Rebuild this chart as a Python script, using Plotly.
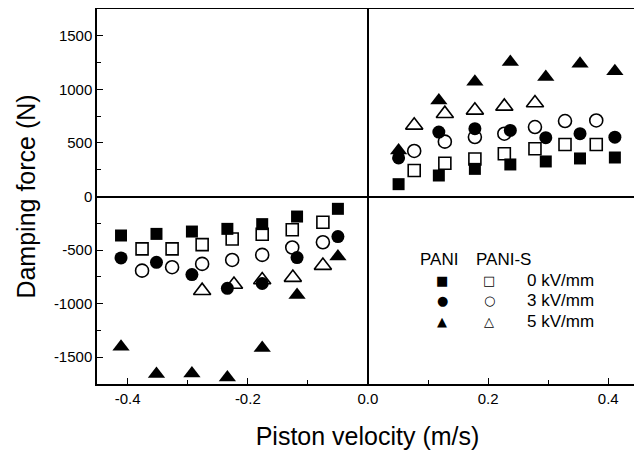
import plotly.graph_objects as go

# ---- data ----
v_pani = [-0.411, -0.352, -0.293, -0.234, -0.176, -0.118, -0.050,
          0.051, 0.118, 0.178, 0.237, 0.296, 0.353, 0.411]
v_panis = [-0.376, -0.326, -0.276, -0.226, -0.176, -0.126, -0.075,
           0.077, 0.128, 0.178, 0.227, 0.278, 0.328, 0.380]
v_panis_5 = [-0.276, -0.223, -0.176, -0.125, -0.075,
             0.077, 0.128, 0.178, 0.227, 0.278]

f_pani_0 = [-364, -349, -327, -302, -258, -187, -115,
            115, 196, 258, 299, 327, 355, 364]
f_pani_3 = [-573, -614, -729, -857, -812, -570, -374,
            360, 601, 633, 617, 549, 586, 554]
f_pani_5 = [-1402, -1657, -1651, -1689, -1414, -920, -560,
            430, 897, 1070, 1255, 1115, 1240, 1168]
f_panis_0 = [-489, -489, -449, -396, -352, -310, -240,
             243, 311, 350, 399, 446, 486, 486]
f_panis_3 = [-692, -660, -629, -592, -545, -476, -427,
             425, 512, 555, 586, 648, 704, 710]
f_panis_5 = [-879, -822, -779, -757, -645,
             664, 773, 804, 841, 872]

x_ticks = [-0.4, -0.2, 0.0, 0.2, 0.4]
x_ticktext = ["-0.4", "-0.2", "0.0", "0.2", "0.4"]
y_ticks = [-1500, -1000, -500, 0, 500, 1000, 1500]
y_ticktext = ["-1500", "-1000", "-500", "0", "500", "1000", "1500"]

FONT = "Liberation Sans, Arial, Helvetica, sans-serif"

fig = go.Figure()

def add(x, y, symbol, name, size):
    open_ = symbol.endswith("-open")
    fig.add_trace(go.Scatter(
        x=x, y=y, mode="markers", name=name, showlegend=False,
        marker=dict(symbol=symbol, size=size, color="black",
                    line=dict(color="black", width=1.6 if open_ else 0)),
    ))

add(v_pani, f_pani_0, "square", "PANI 0 kV/mm", 12)
add(v_panis, f_panis_0, "square-open", "PANI-S 0 kV/mm", 12)
add(v_pani, f_pani_3, "circle", "PANI 3 kV/mm", 13)
add(v_panis, f_panis_3, "circle-open", "PANI-S 3 kV/mm", 13)
add(v_panis_5, f_panis_5, "triangle-up-open", "PANI-S 5 kV/mm", 15)
add(v_pani, f_pani_5, "triangle-up", "PANI 5 kV/mm", 15)

axis_common = dict(
    showline=True, linecolor="black", linewidth=1.5, mirror=True,
    ticks="inside", ticklen=6, tickwidth=1.3, tickcolor="black",
    showgrid=False, zeroline=True, zerolinecolor="black", zerolinewidth=1.5,
    tickfont=dict(family=FONT, size=15, color="black"),
    automargin=False,
)

fig.update_xaxes(
    range=[-0.451, 0.4495], tickvals=x_ticks, ticktext=x_ticktext,
    minor=dict(ticks="inside", ticklen=4, tickwidth=1.2, tickcolor="black", dtick=0.1, tick0=0),
    title=dict(text="Piston velocity (m/s)", font=dict(family=FONT, size=25, color="black"), standoff=22),
    **axis_common)
fig.update_yaxes(
    range=[-1750, 1750], tickvals=y_ticks, ticktext=y_ticktext,
    minor=dict(ticks="inside", ticklen=4, tickwidth=1.2, tickcolor="black", dtick=250, tick0=0),
    title=dict(text="Damping force (N)", font=dict(family=FONT, size=25, color="black"), standoff=11),
    **axis_common)

# ---- layout geometry (page body adds an 8 px offset) ----
OFF = 8
W, H = 642 - OFF, 452 - OFF
L, R, T, B = 97 - OFF, 4, 9 - OFF, 68
pw, ph = W - L - R, H - T - B

def px(x):
    return (x - OFF - L) / pw

def py(y):
    return (H - B - (y - OFF)) / ph

legend_font = dict(family=FONT, size=17, color="black")
sym_font = dict(family="DejaVu Sans", size=13, color="black")
ann = [
    dict(text="PANI", x=px(439), y=py(259), xanchor="center", yanchor="middle", font=legend_font),
    dict(text="PANI-S", x=px(503), y=py(259), xanchor="center", yanchor="middle", font=legend_font),
]
rows = [("■", "□", "0 kV/mm", 280), ("●", "○", "3 kV/mm", 300), ("▲", "△", "5 kV/mm", 321)]
for s1, s2, lab, yy in rows:
    ann.append(dict(text=s1, x=px(442), y=py(yy), xanchor="center", yanchor="middle", font=sym_font))
    ann.append(dict(text=s2, x=px(489), y=py(yy), xanchor="center", yanchor="middle", font=sym_font))
    ann.append(dict(text=lab, x=px(525), y=py(yy), xanchor="left", yanchor="middle", font=legend_font))
for a in ann:
    a.update(xref="paper", yref="paper", showarrow=False)

fig.update_layout(
    width=W, height=H,
    margin=dict(l=L, r=R, t=T, b=B),
    paper_bgcolor="white", plot_bgcolor="white",
    annotations=ann,
    font=dict(family=FONT, color="black"),
)

fig.write_html("out.html")
